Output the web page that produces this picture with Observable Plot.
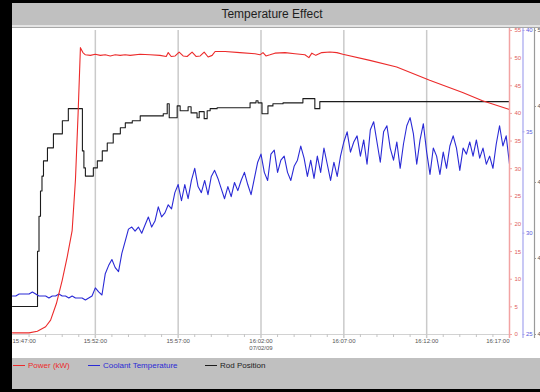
<!DOCTYPE html>
<html><head><meta charset="utf-8">
<script src="https://cdn.jsdelivr.net/npm/d3@7"></script>
<script src="https://cdn.jsdelivr.net/npm/@observablehq/plot@0.6"></script>
<style>
html,body{margin:0;padding:0;background:#000;width:540px;height:392px;overflow:hidden;font-family:"Liberation Sans",Arial,sans-serif}
#wrap{position:absolute;left:12px;top:3px;width:528px;height:386px;background:#fff}
#title{height:22px;line-height:23px;background:#c0c0c0;color:#1e1e1e;font-size:12px;text-align:center;padding-right:8px}
.sep1{height:2px;background:#e4e4e4}
.sep2{height:1px;background:#a8a8a8}
#chart svg{display:block}
#legend{position:relative;height:31px;background:#c0c0c0;font-size:8px}
.item{position:absolute;top:3px;line-height:10px;white-space:nowrap}
.sw{display:inline-block;width:12px;height:1px;vertical-align:middle;margin-right:3px}
</style></head>
<body>
<div id="wrap">
  <div id="title"></div>
  <div class="sep1"></div><div class="sep2"></div>
  <div id="chart"></div>
  <div id="legend"></div>
</div>
<script>
const titleText = "Temperature Effect";
// x axis: minutes after 15:47:00
const timeTicks = [0, 5, 10, 15, 20, 25, 30];
const timeLabels = ["15:47:00", "15:52:00", "15:57:00", "16:02:00", "16:07:00", "16:12:00", "16:17:00"];
const dateLabel = "07/02/09";
const powerTicks = [0, 5, 10, 15, 20, 25, 30, 35, 40, 45, 50, 55];
const tempTicks = [25, 30, 35, 40];
const rodTicks = [400, 425, 450, 475, 500];

const seriesNames = ["Power (kW)", "Coolant Temperature", "Rod Position"];
const seriesColors = ["#ec2b2b", "#2a2ad6", "#1c1c1c"];

// Power (kW)
const powerTime = [0, 1.0, 1.5, 2.0, 2.3, 2.65, 3.0, 3.3, 3.6, 3.8, 3.96, 4.1, 4.25, 4.4, 4.7, 5.0, 5.3, 5.6, 5.9, 6.2, 6.5, 6.8, 7.1, 7.7, 8.3, 8.9, 9.28, 9.4, 9.58, 9.82, 10.06, 10.3, 10.54, 10.84, 11.08, 11.33, 11.57, 11.81, 12.05, 12.23, 12.83, 13.73, 14.64, 14.94, 15.12, 15.3, 15.54, 15.84, 16.45, 17.05, 17.65, 17.89, 18.07, 18.31, 18.67, 19.16, 19.58, 19.94, 21.57, 23.19, 25.18, 27.17, 28.37, 30.0];
const powerKW = [0.3, 0.3, 0.6, 1.4, 2.6, 5.6, 9.8, 14, 18.8, 28, 40, 51.9, 51.0, 50.6, 50.5, 50.7, 50.5, 50.6, 50.4, 50.6, 50.5, 50.6, 50.5, 50.7, 50.6, 50.5, 50.3, 51.0, 50.3, 50.4, 51.1, 50.4, 50.3, 51.1, 50.3, 50.4, 51.1, 50.2, 50.5, 51.2, 51.2, 51.0, 50.8, 50.6, 51.0, 50.4, 50.6, 50.9, 51.0, 50.8, 50.6, 50.1, 50.9, 50.5, 51.0, 51.1, 51.0, 50.7, 49.6, 48.4, 46.0, 43.8, 42.3, 40.7];

// Rod position (step changes)
const rodTime = [0, 1.51, 1.6, 1.69, 1.78, 1.87, 2.11, 2.47, 3.01, 3.37, 4.22, 4.31, 4.40, 4.88, 5.12, 5.42, 5.72, 6.08, 6.51, 6.81, 7.23, 7.71, 9.10, 9.34, 9.46, 9.94, 10.12, 10.60, 10.78, 11.14, 11.27, 11.57, 11.75, 11.93, 12.35, 14.34, 14.70, 14.82, 15.06, 15.42, 15.72, 16.33, 17.53, 18.25, 18.55, 30];
const rodPos = [409.2, 427.4, 438.9, 447.2, 452.1, 457.1, 461.4, 466.0, 470.3, 474.3, 460.4, 454.8, 452.1, 454.8, 457.1, 460.4, 463.0, 466.0, 468.0, 469.6, 470.3, 471.9, 472.6, 475.9, 471.3, 475.2, 473.6, 474.9, 472.9, 471.3, 473.3, 471.0, 473.6, 474.3, 474.6, 476.2, 476.9, 476.2, 472.6, 475.2, 475.9, 476.2, 477.6, 474.3, 476.6, 476.6];

// Coolant temperature, sampled every 0.2 min from 15:47:00
const coolantStep = 0.2;
const coolantTemp = [
  26.9, 26.9, 27.0, 27.0, 27.0, 27.0, 27.1, 27.0, 26.9, 26.9,
  26.9, 26.8, 26.9, 26.9, 27.0, 26.9, 26.9, 26.8, 26.9, 26.8,
  26.8, 26.8, 26.7, 26.8, 26.9, 27.3, 27.1, 26.95, 28.0, 28.4,
  28.7, 28.3, 28.1, 29.0, 29.6, 30.2, 30.3, 30.1, 30.3, 30.0,
  30.4, 30.8, 30.3, 30.6, 31.3, 30.8, 31.0, 31.4, 31.2, 32.0,
  32.4, 31.6, 32.4, 31.7, 32.6, 33.2, 32.3, 32.0, 32.6, 31.9,
  32.8, 33.1, 32.7, 32.2, 31.7, 32.3, 31.8, 32.5, 32.1, 32.6,
  33.0, 32.4, 31.9, 32.7, 33.5, 33.9, 33.0, 32.6, 33.9, 34.1,
  33.0, 33.6, 33.8, 33.0, 32.6, 33.3, 33.6, 34.3, 33.7, 32.8,
  33.6, 32.7, 33.8, 33.0, 34.2, 33.4, 32.6, 33.5, 32.8, 33.8,
  34.5, 35.0, 34.0, 34.5, 34.8, 33.8, 34.6, 33.4, 35.1, 35.5,
  34.5, 33.5, 35.0, 35.3, 34.2, 33.6, 34.5, 33.2, 34.4, 35.3,
  35.7, 34.9, 33.4, 34.6, 35.4, 34.0, 32.9, 34.2, 33.8, 32.9,
  34.0, 33.2, 34.3, 34.8, 34.2, 33.1, 34.2, 33.9, 34.5, 33.8,
  34.6, 33.7, 34.2, 33.4, 33.8, 33.2, 34.4, 35.3, 34.3, 34.8, 33.4
];

document.getElementById("title").textContent = titleText;

// secondary axes mapped onto the power scale
const tempToY = d3.scaleLinear([25, 40], [0, 55]);
const rodToY = d3.scaleLinear([400, 500], [0, 55]);

const power = powerTime.map((t, i) => ({t, v: powerKW[i]}));
const rod = rodTime.map((t, i) => ({t, v: rodToY(rodPos[i])}));
const coolant = coolantTemp.map((v, i) => ({t: i * coolantStep, v: tempToY(v)}));

const [RED, BLUE, BLACK] = seriesColors;
const font = '"Liberation Sans", Arial, sans-serif';
const lab = {fontSize: 6, fill: "#555", frameAnchor: "bottom"};
const minorTicks = d3.range(1, 30).filter(d => d % 5);

const chart = Plot.plot({
  width: 528, height: 330,
  marginTop: 2, marginRight: 31, marginBottom: 24, marginLeft: 0,
  style: {background: "#fff", fontFamily: font, overflow: "hidden"},
  x: {domain: [0, 30], axis: null},
  y: {domain: [0, 55], axis: null},
  marks: [
    Plot.ruleY([0], {stroke: "#d2d2d2"}),
    Plot.ruleX(minorTicks, {y1: 0, y2: 0, insetBottom: -3, stroke: "#c4c4c4"}),
    Plot.ruleX(timeTicks.slice(1, -1), {stroke: "#cacaca", strokeWidth: 1.5, insetBottom: -4}),
    Plot.line(rod, {x: "t", y: "v", curve: "step-after", stroke: BLACK, strokeWidth: 1.1}),
    Plot.line(coolant, {x: "t", y: "v", stroke: BLUE, strokeWidth: 1.1}),
    Plot.line(power, {x: "t", y: "v", stroke: RED, strokeWidth: 1.1}),
    // x tick labels
    Plot.text([timeTicks[0]], {...lab, x: d => d, dy: 8, text: () => timeLabels[0], textAnchor: "start"}),
    Plot.text(timeTicks.slice(1, -1), {...lab, x: d => d, dy: 8, text: (d, i) => timeLabels[i + 1]}),
    Plot.text([timeTicks[6]], {...lab, x: d => d, dy: 8, text: () => timeLabels[6], textAnchor: "end"}),
    Plot.text([timeTicks[3]], {...lab, x: d => d, dy: 15, text: () => dateLabel}),
    // power axis (red)
    Plot.ruleX([30], {stroke: "#f2a3a3", strokeWidth: 1.5, insetTop: -3, insetBottom: -4}),
    Plot.ruleY(powerTicks, {x1: 30, x2: 30, insetRight: -3, stroke: "#f2a3a3"}),
    Plot.text(powerTicks, {y: d => d, frameAnchor: "right", dx: 5, textAnchor: "start", text: d => `${d}`, fontSize: 6, fill: "#e06060"}),
    // coolant axis (blue)
    Plot.ruleX([30], {dx: 13.5, stroke: "#a4a4ee", strokeWidth: 1.2, insetTop: -3, insetBottom: -4}),
    Plot.ruleY(tempTicks, {x1: 30, x2: 30, dx: 13.5, insetRight: -2, stroke: "#a4a4ee", y: d => tempToY(d)}),
    Plot.text(tempTicks, {y: d => tempToY(d), frameAnchor: "right", dx: 16.5, textAnchor: "start", text: d => `${d}`, fontSize: 6, fill: "#5a5ae0"}),
    // rod axis (black)
    Plot.ruleX([30], {dx: 25, stroke: "#9a9a9a", strokeWidth: 1.2, insetTop: -3, insetBottom: -4}),
    Plot.ruleY(rodTicks, {x1: 30, x2: 30, dx: 25, insetRight: -2, stroke: "#9a9a9a", y: d => rodToY(d)}),
    Plot.text(rodTicks, {y: d => rodToY(d), frameAnchor: "right", dx: 28, textAnchor: "start", text: d => `${d}`, fontSize: 6, fill: "#555"})
  ]
});
document.getElementById("chart").appendChild(chart);

// legend
const legendLeft = [1, 76, 193];
const legend = document.getElementById("legend");
seriesNames.forEach((name, i) => {
  const it = document.createElement("div");
  it.className = "item";
  it.style.left = legendLeft[i] + "px";
  it.style.color = seriesColors[i];
  const sw = document.createElement("span");
  sw.className = "sw";
  sw.style.background = seriesColors[i];
  it.appendChild(sw);
  it.appendChild(document.createTextNode(name));
  legend.appendChild(it);
});
</script>
</body></html>
